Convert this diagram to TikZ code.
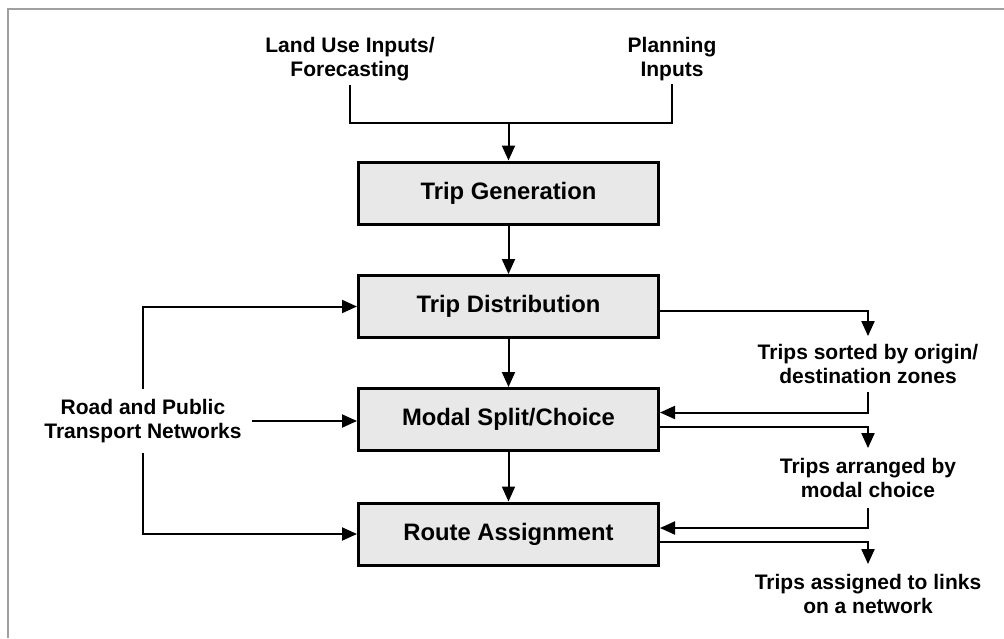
\documentclass[tikz,border=0pt]{standalone}
\usepackage{fontspec}
\setmainfont{Liberation Sans}
\usetikzlibrary{arrows.meta}
\definecolor{boxfill}{HTML}{E8E8E8}
\definecolor{framegray}{HTML}{A0A0A0}
\tikzset{
  stagebox/.style={draw=black, line width=3pt, fill=boxfill, minimum width=300pt, minimum height=62pt,
    font=\fontsize{23.8}{28}\selectfont\bfseries},
  lbl/.style={align=center, inner sep=3pt, font=\fontsize{21}{24}\selectfont\bfseries},
  conn/.style={line width=2pt},
  arr/.style={line width=2pt, -{Triangle[length=15pt,width=13pt]}},
}
\begin{document}
\begin{tikzpicture}[x=1pt,y=-1pt]
\useasboundingbox (0,0) rectangle (1004,638);
\draw[framegray, line width=2pt] (8,638) -- (8,9) -- (1004,9);

\node[stagebox] (gen) at (508.5,193) {Trip Generation};
\node[stagebox] (dist) at (508.5,306.5) {Trip Distribution};
\node[stagebox] (modal) at (508.5,419.5) {Modal Split/Choice};
\node[stagebox] (route) at (508.5,534) {Route Assignment};

\node[lbl] (landuse) at (350,59.5) {Land Use Inputs/\\Forecasting};
\node[lbl] (planning) at (672,59.5) {Planning\\Inputs};
\node[lbl, inner xsep=10pt, inner ysep=10pt] (road) at (143,421) {Road and Public\\Transport Networks};
\node[lbl, inner ysep=8pt] (sorted) at (868,364) {Trips sorted by origin/\\destination zones};
\node[lbl, inner ysep=10pt] (arranged) at (868,478) {Trips arranged by\\modal choice};
\node[lbl, inner ysep=10pt] (assigned) at (868,594) {Trips assigned to links\\on a network};

\coordinate (join) at (508.5,123);
\draw[conn] (landuse.south) |- (join);
\draw[conn] (planning.south) |- (join);
\draw[arr] (join) -- (gen.north);

\draw[arr] (gen.south) -- (dist.north);
\draw[arr] (dist.south) -- (modal.north);
\draw[arr] (modal.south) -- (route.north);

\draw[arr] (road.north) |- (dist.west);
\draw[arr] (road.east) -- (road.east -| modal.west);
\draw[arr] (road.south) |- (route.west);

\draw[arr] ([yshift=-4.5pt]dist.east) -| (sorted.north);
\draw[arr] (sorted.south) |- ([yshift=7pt]modal.east);
\draw[arr] ([yshift=-7pt]modal.east) -| (arranged.north);
\draw[arr] (arranged.south) |- ([yshift=6pt]route.east);
\draw[arr] ([yshift=-8pt]route.east) -| (assigned.north);
\end{tikzpicture}
\end{document}
